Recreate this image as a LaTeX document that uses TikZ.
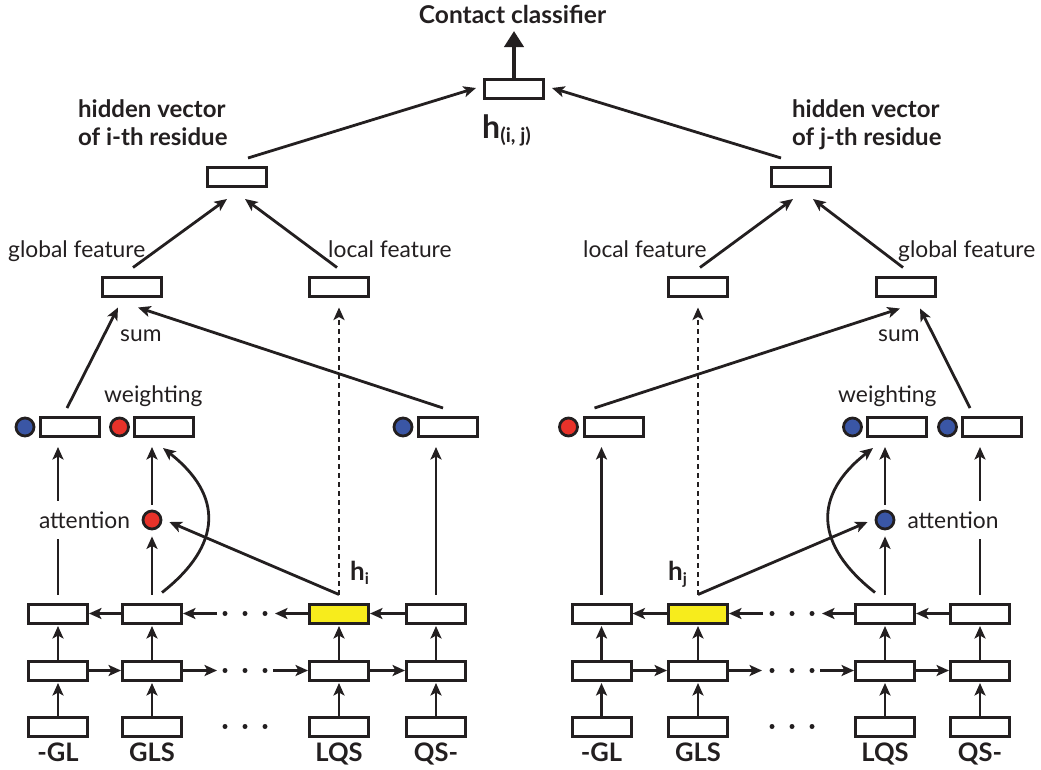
\documentclass[tikz,border=0pt]{standalone}
\usepackage{fontspec}
\setmainfont{Lato}
\usetikzlibrary{arrows.meta,calc}
\definecolor{ink}{HTML}{231F20}
\definecolor{cred}{HTML}{E8322A}
\definecolor{cblue}{HTML}{3A56A5}
\definecolor{cyel}{HTML}{F7EC1C}
\begin{document}
\begin{tikzpicture}[x=1pt,y=-1pt,
  bx/.style={draw=ink,line width=3pt,minimum width=59pt,minimum height=19pt,inner sep=0pt,fill=white},
  ybx/.style={bx,fill=cyel},
  rc/.style={circle,draw=ink,line width=2.8pt,minimum size=18pt,inner sep=0pt,fill=cred},
  bc/.style={circle,draw=ink,line width=2.8pt,minimum size=18pt,inner sep=0pt,fill=cblue},
  arr/.style={draw=ink,line width=2.8pt,-{Stealth[length=12.5pt,width=11pt,inset=3pt]}},
  ln/.style={draw=ink,line width=2.8pt},
  dsh/.style={arr,dash pattern=on 5pt off 4pt},
  lbl/.style={inner sep=0pt,text=ink,font=\fontsize{22.8}{26}\selectfont},
  blbl/.style={inner sep=0pt,text=ink,font=\fontsize{24}{26}\selectfont\bfseries},
  dotc/.style={circle,fill=ink,inner sep=0pt,minimum size=5pt},
  attxt/.style={lbl,minimum height=38pt}
]
\useasboundingbox (0,0) rectangle (1041,769);

% ---------- input / LSTM rows ----------
\foreach \n/\x in {1/58,2/152,3/339,4/436,5/601.5,6/698,7/885,8/980}{
  \node[bx] (in\n) at (\x,726.5) {};
  \node[bx] (fw\n) at (\x,670.5) {};
}
\node[bx] (bw1) at (58,613.5) {};
\node[bx] (bw2) at (152,613.5) {};
\node[ybx] (bw3) at (339,613.5) {};
\node[bx] (bw4) at (436,613.5) {};
\node[bx] (bw5) at (601.5,613.5) {};
\node[ybx] (bw6) at (698,613.5) {};
\node[bx] (bw7) at (885,613.5) {};
\node[bx] (bw8) at (980,613.5) {};

\foreach \n/\x/\t in {1/58/-GL,2/152/GLS,3/339/LQS,4/436/QS-,5/601.5/-GL,6/698/GLS,7/885/LQS,8/980/QS-}{
  \node[blbl,anchor=base,font=\fontsize{25.5}{26}\selectfont\bfseries] (lab\n) at (\x,761) {\t};
}

% vertical arrows in LSTM rows
\foreach \n in {1,...,8}{
  \draw[arr,shorten >=1.5pt] (in\n.north) -- (fw\n.south);
  \draw[arr,shorten >=1.5pt] (fw\n.north) -- (bw\n.south);
}

% dots
\foreach \x in {225,245,265,772,792,812}{
  \foreach \y [count=\k] in {613.5,670.5,726.5}{
    \node[dotc] (d\x-\k) at (\x,\y) {};
  }
}

% forward row (left)
\draw[arr] (fw1.east) -- (fw2.west);
\draw[arr] (fw2.east) -- ($(fw2.east)+(34,0)$);
\draw[arr] ($(fw3.west)+(-35,0)$) -- (fw3.west);
\draw[arr] (fw3.east) -- (fw4.west);
% backward row (left)
\draw[arr] (bw4.west) -- (bw3.east);
\draw[arr] (bw3.west) -- ($(bw3.west)+(-33,0)$);
\draw[arr] ($(bw2.east)+(34,0)$) -- (bw2.east);
\draw[arr] (bw2.west) -- (bw1.east);
% forward row (right)
\draw[arr] (fw5.east) -- (fw6.west);
\draw[arr] (fw6.east) -- ($(fw6.east)+(33,0)$);
\draw[arr] ($(fw7.west)+(-34,0)$) -- (fw7.west);
\draw[arr] (fw7.east) -- (fw8.west);
% backward row (right)
\draw[arr] (bw8.west) -- (bw7.east);
\draw[arr] (bw7.west) -- ($(bw7.west)+(-32,0)$);
\draw[arr] ($(bw6.east)+(34,0)$) -- (bw6.east);
\draw[arr] (bw6.west) -- (bw5.east);

% ---------- feature row ----------
\node[bx] (gL) at (132,286.5) {};
\node[bx] (lL) at (339,286.5) {};
\node[bx] (lR) at (698,286.5) {};
\node[bx] (gR) at (906,286.5) {};

% ---------- weighting row ----------
\node[bx] (wb1) at (70,427) {};   \node[bc] (wc1) at (25,427) {};
\node[bx] (wb2) at (164,427) {};  \node[rc] (wc2) at (119.5,427) {};
\node[bx] (wb4) at (448,427) {};  \node[bc] (wc4) at (403,427) {};
\node[bx] (wb5) at (613.5,427) {};\node[rc] (wc5) at (568.5,427) {};
\node[bx] (wb7) at (897,427) {};  \node[bc] (wc7) at (852.5,427) {};
\node[bx] (wb8) at (992,427) {};  \node[bc] (wc8) at (947.5,427) {};

\node[lbl,anchor=base west] (wtL) at (104,402) {weighting};
\node[lbl,anchor=base west] (wtR) at (838,402) {weighting};

% attention
\node[rc] (at2) at (152,520) {};
\node[bc] (at7) at (885,520) {};
\node[attxt] (attL) at (84.5,520) {attention};
\node[attxt] (attR) at (953,520) {attention};

% h labels
\node[blbl,anchor=base west,font=\fontsize{26}{26}\selectfont\bfseries] (hi) at (350,580) {h\raisebox{-4pt}{\fontsize{16}{16}\selectfont i}};
\node[blbl,anchor=base west,font=\fontsize{26}{26}\selectfont\bfseries] (hjl) at (668,580) {h\raisebox{-4pt}{\fontsize{16}{16}\selectfont j}};

% column arrows (left)
\draw[ln] ($(bw1.north)+(0,-8)$) -- (bw1.north |- attL.south);
\draw[arr] (bw1.north |- attL.north) -- ($(bw1.north |- wb1.south)+(0,9)$);
\draw[arr] ($(bw2.north)+(0,-8)$) -- ($(at2.south)+(0,6)$);
\draw[arr] ($(at2.north)+(0,-5)$) -- ($(bw2.north |- wb2.south)+(0,9)$);
\draw[arr] ($(bw2.north)+(10,-10)$) .. controls +(61,-48) and +(60,47) .. ($(wb2.south)+(-1,10)$);
\draw[arr] ($(bw4.north)+(0,-8)$) -- ($(bw4.north |- wb4.south)+(0,9)$);
\draw[arr] ($(bw3.north)+(0,-8)$) -- ($(at2.east)+(7,2)$);
\draw[dsh] ($(bw3.north)+(0,-8)$) -- ($(bw3.north |- lL.south)+(0,10)$);

% column arrows (right)
\draw[arr] ($(bw5.north)+(0,-8)$) -- ($(bw5.north |- wb5.south)+(0,9)$);
\draw[arr] ($(bw7.north)+(0,-8)$) -- ($(at7.south)+(0,6)$);
\draw[arr] ($(at7.north)+(0,-5)$) -- ($(bw7.north |- wb7.south)+(0,9)$);
\draw[arr] ($(bw7.north)+(-10,-10)$) .. controls +(-61,-48) and +(-60,47) .. ($(wb7.south)+(-24,10)$);
\draw[ln] ($(bw8.north)+(0,-8)$) -- (bw8.north |- attR.south);
\draw[arr] (bw8.north |- attR.north) -- ($(bw8.north |- wb8.south)+(0,9)$);
\draw[arr] ($(bw6.north)+(0,-8)$) -- ($(at7.west)+(-7,2)$);
\draw[dsh] ($(bw6.north)+(0,-8)$) -- ($(bw6.north |- lR.south)+(0,10)$);

% feature labels
\node[lbl,anchor=base west] (tgL) at (8,257) {global feature};
\node[lbl,anchor=base west] (tlL) at (328,257) {local feature};
\node[lbl,anchor=base west] (tlR) at (583,257) {local feature};
\node[lbl,anchor=base west] (tgR) at (898,257) {global feature};
\node[lbl,anchor=base west] (sL) at (120,341) {sum};
\node[lbl,anchor=base west] (sR) at (878,341) {sum};

\draw[arr] ($(wb1.north)+(-3,-8)$) -- ($(gL.south)+(-14,10)$);
\draw[arr] ($(wb4.north)+(-5,-8)$) -- ($(gL.south)+(6,10)$);
\draw[arr] ($(wb5.north)+(-19,-8)$) -- ($(gR.south)+(-6,11)$);
\draw[arr] ($(wb8.north)+(-22,-8)$) -- ($(gR.south)+(14,11)$);

% ---------- hidden vectors ----------
\node[bx] (hvi) at (237,177) {};
\node[bx] (hvj) at (801,177) {};
\node[blbl,anchor=base west] (hvi1) at (78,117) {hidden vector};
\node[blbl,anchor=base west] (hvi2) at (78,145) {of i-th residue};
\node[blbl,anchor=base west] (hvj1) at (792,117) {hidden vector};
\node[blbl,anchor=base west] (hvj2) at (792,145) {of j-th residue};

\draw[arr] ($(gL.north)+(1,-8)$) -- ($(hvi.south)+(-10,11)$);
\draw[arr] ($(lL.north)+(-2,-8)$) -- ($(hvi.south)+(8,11)$);
\draw[arr] ($(lR.north)+(2,-8)$) -- ($(hvj.south)+(-8,11)$);
\draw[arr] ($(gR.north)+(-3,-8)$) -- ($(hvj.south)+(12,11)$);

% ---------- top ----------
\node[bx] (top) at (514,89) {};
\node[blbl,anchor=base,font=\fontsize{24.5}{26}\selectfont\bfseries] (cc) at (512.5,23) {Contact classifier};
\coordinate (ccTip) at (514,31);
\draw[draw=ink,line width=4.6pt,-{Triangle[length=16pt,width=19pt]}] (top.north) -- (ccTip);
\node[blbl,anchor=base west,font=\fontsize{32}{32}\selectfont\bfseries] (hij) at (482,138) {h\raisebox{-4pt}{\fontsize{20}{20}\selectfont (i, j)}};

\draw[arr] ($(hvi.north)+(11,-8)$) -- ($(top.west)+(-7,-1)$);
\draw[arr] ($(hvj.north)+(-20,-8)$) -- ($(top.east)+(7,-1)$);
\end{tikzpicture}
\end{document}
